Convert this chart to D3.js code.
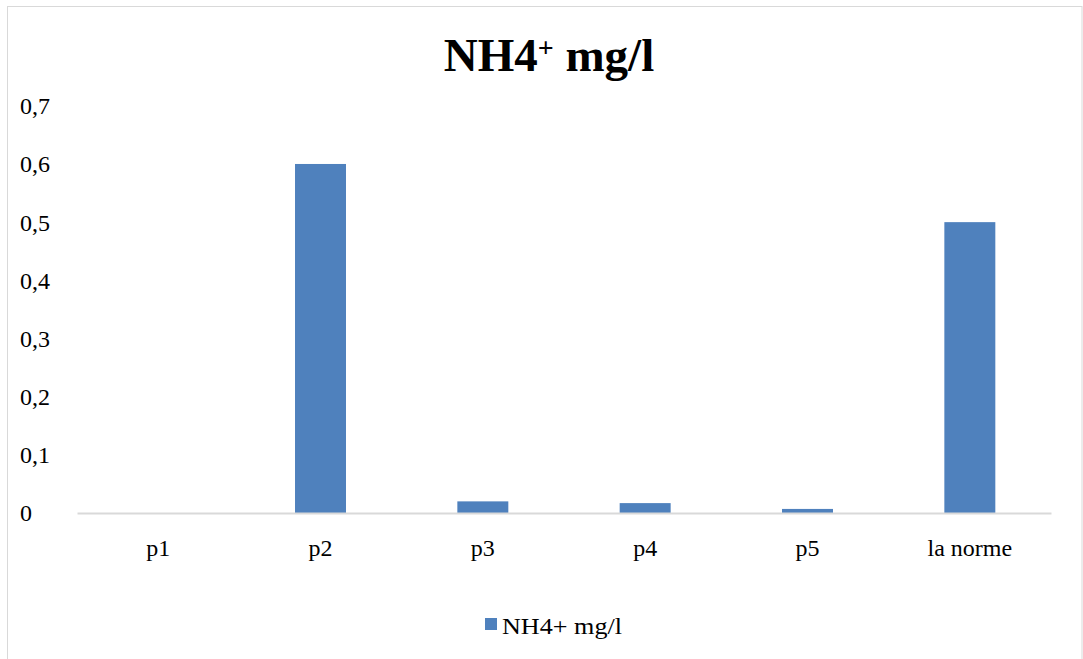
<!DOCTYPE html>
<html>
<head>
<meta charset="utf-8">
<script src="https://cdn.jsdelivr.net/npm/d3@7"></script>
<style>
  html, body { margin: 0; padding: 0; background: #fff; }
  svg { display: block; }
  svg text { font-family: "Liberation Serif", serif !important; fill: #000; }
</style>
</head>
<body>
<svg id="chart" width="1083" height="659"></svg>
<script>
// NH4+ concentration per sampling point, compared with the standard
const categories = ["p1", "p2", "p3", "p4", "p5", "la norme"];
const values = [0, 0.6, 0.02, 0.017, 0.007, 0.5];
const yTicks = [0, 0.1, 0.2, 0.3, 0.4, 0.5, 0.6, 0.7];
const seriesName = "NH4+ mg/l";

const W = 1083, H = 659;
const barColor = "#4f81bd";
const serif = "Liberation Serif";
const svg = d3.select("#chart");

// chart area frame
svg.append("rect")
  .attr("x", 7.5).attr("y", 6.5)
  .attr("width", 1082 - 7.5).attr("height", H + 10)
  .attr("fill", "#fff").attr("stroke", "#d9d9d9").attr("stroke-width", 1);

const plot = { left: 77, right: 1051, top: 105.8, bottom: 513 };

const x = d3.scaleBand()
  .domain(categories)
  .range([plot.left, plot.right])
  .paddingInner(0.686)
  .paddingOuter(0.343);

const y = d3.scaleLinear()
  .domain([0, 0.7])
  .range([plot.bottom, plot.top]);

// title with superscript charge
const title = svg.append("text")
  .attr("x", 549)
  .attr("y", 71)
  .attr("text-anchor", "middle")
  .attr("font-family", serif)
  .style("font-size", "47px")
  .style("font-weight", "bold");
title.append("tspan").text("NH4");
title.append("tspan").text("+")
  .attr("dy", -14)
  .style("font-size", "28px");
title.append("tspan").text(" mg/l")
  .attr("dy", 14);

// value axis labels (no line, no ticks)
const yAxis = d3.axisLeft(y)
  .tickValues(yTicks)
  .tickSize(0)
  .tickPadding(0)
  .tickFormat(d => d3.format(".1~f")(d).replace(".", ","));

const yg = svg.append("g")
  .attr("transform", `translate(20,0)`)
  .call(yAxis)
  .attr("font-family", serif)
  .attr("font-size", 24);
yg.select(".domain").remove();
yg.selectAll("text")
  .attr("text-anchor", "start")
  .attr("x", 0)
  .attr("dy", "0.33em");

// bars
svg.append("g")
  .selectAll("rect")
  .data(values)
  .join("rect")
  .attr("x", (d, i) => x(categories[i]))
  .attr("width", x.bandwidth())
  .attr("y", d => y(d))
  .attr("height", d => y(0) - y(d))
  .attr("fill", barColor);

// category axis
const xAxis = d3.axisBottom(x).tickSize(0).tickPadding(0);
const xg = svg.append("g")
  .attr("transform", `translate(0,${plot.bottom})`)
  .call(xAxis)
  .attr("font-family", serif)
  .attr("font-size", 24);
xg.select(".domain")
  .attr("stroke", "#d9d9d9")
  .attr("stroke-width", 2);
xg.selectAll("text")
  .attr("y", 43)
  .attr("dy", 0);

// legend
const legend = svg.append("g").attr("transform", "translate(485,618)");
legend.append("rect")
  .attr("width", 12).attr("height", 12)
  .attr("fill", barColor);
legend.append("text")
  .attr("x", 17).attr("y", 15.5)
  .attr("font-family", serif)
  .attr("font-size", 23)
  .attr("textLength", 120)
  .attr("lengthAdjust", "spacingAndGlyphs")
  .text(seriesName);
</script>
</body>
</html>
